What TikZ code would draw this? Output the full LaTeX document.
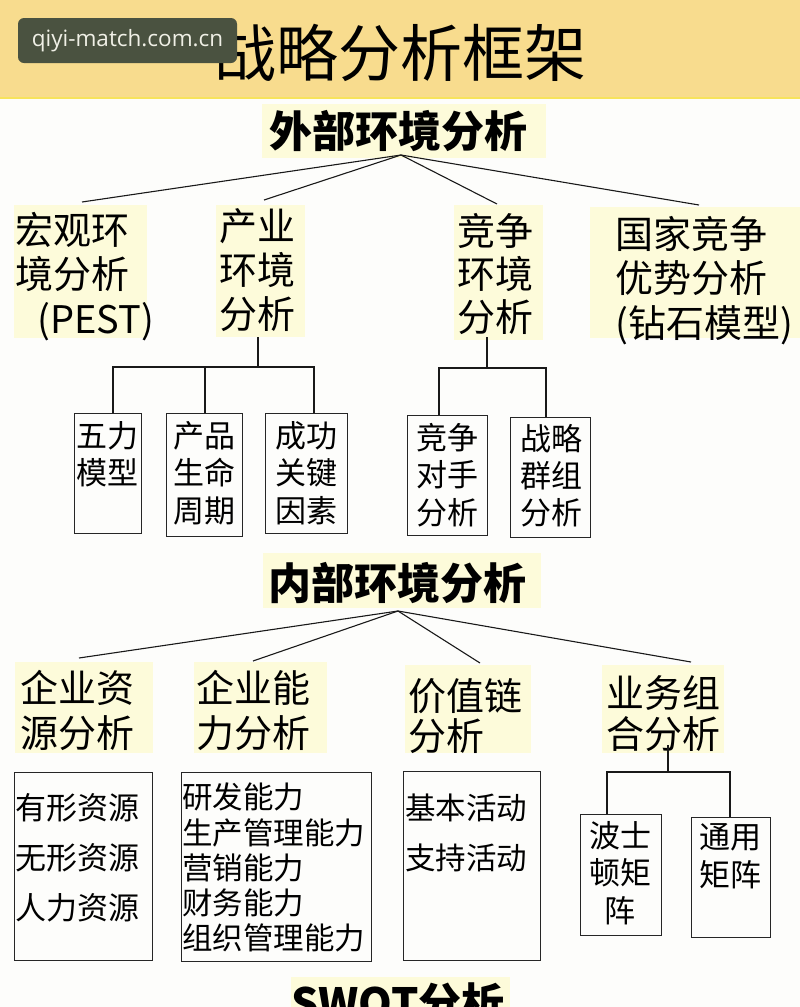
\documentclass[tikz,border=0pt]{standalone}
\usepackage{fontspec}
\setmainfont{Noto Sans CJK SC}
\newfontfamily\wmfont{Open Sans}
\usetikzlibrary{calc}
\definecolor{headc}{HTML}{F8DC8E}
\definecolor{headline}{HTML}{F7E35C}
\definecolor{hl}{HTML}{FDFBDA}
\definecolor{wm}{HTML}{4A5240}
\definecolor{wmtext}{HTML}{F0F0E6}
\definecolor{bg}{HTML}{FDFDFB}
\tikzset{
  lab/.style={anchor=north west, inner sep=0pt, align=left, font=\fontsize{38}{44.5}\selectfont},
  head/.style={inner sep=0pt, font=\bfseries\fontsize{43}{50}\selectfont},
  boxs/.style={draw=black!85, line width=1.1pt, anchor=north west, inner sep=0pt},
  btxt/.style={anchor=north, inner sep=0pt, align=center, font=\fontsize{31}{37.5}\selectfont},
  ltxt/.style={anchor=north west, inner sep=0pt, align=left, font=\fontsize{31}{50}\selectfont},
  conn/.style={line width=1.1pt, black!90},
}
\begin{document}
\begin{tikzpicture}[x=1pt,y=-1pt]
\useasboundingbox (0,0) rectangle (800,1007);
\clip (0,0) rectangle (800,1007);
\fill[bg] (0,0) rectangle (800,1007);
% header
\fill[headc] (0,0) rectangle (800,98);
\draw[headline, line width=2.5pt] (0,98) -- (800,98);
\node[inner sep=0pt, font=\fontsize{62}{70}\selectfont] (title) at (400,53) {战略分析框架};
\node[fill=wm, rounded corners=6pt, minimum width=219pt, minimum height=45pt, text=wmtext,
      text height=16pt, text depth=5pt,
      font=\wmfont\fontsize{22.5}{26}\selectfont, inner sep=0pt] (wm) at (127.5,40.5) {qiyi-match.com.cn};
% highlights
\fill[hl] (262,104) rectangle (546,158);
\fill[hl] (14,205) rectangle (147,338);
\fill[hl] (216,205) rectangle (305,337);
\fill[hl] (454,205) rectangle (543,340);
\fill[hl] (590,207) rectangle (800,338);
\fill[hl] (263,553) rectangle (541,608);
\fill[hl] (15,662) rectangle (153,753);
\fill[hl] (194,662) rectangle (327,753);
\fill[hl] (405,665) rectangle (531,753);
\fill[hl] (602,665) rectangle (724,753);
\fill[hl] (291,977) rectangle (510,1007);
% headings
\node[head] (ext) at (398,131) {外部环境分析};
\node[head] (int) at (397,583) {内部环境分析};
\node[head] (swot) at (398,1003) {SWOT分析};
% external labels
\node[lab] (mac) at (15,212) {宏观环\\境分析\\\hspace*{22pt}(PEST)};
\node[lab, font=\fontsize{38}{44}\selectfont] (ind) at (219,208) {产业\\环境\\分析};
\node[lab, font=\fontsize{38}{43}\selectfont] (comp) at (457,213) {竞争\\环境\\分析};
\node[lab] (nat) at (615,216) {国家竞争\\优势分析\\(钻石模型)};
% external connectors
\coordinate (ea) at (401,155);
\coordinate (e1) at (82,202);
\coordinate (e2) at (264,200);
\coordinate (e3) at (497,204);
\coordinate (e4) at (699,205);
\foreach \e in {e1,e2,e3,e4} \draw[conn] (ea) -- (\e);
% industry boxes
\node[boxs, minimum width=67pt, minimum height=120pt] (b1) at (74,413) {};
\node[boxs, minimum width=76pt, minimum height=123pt] (b2) at (166,413) {};
\node[boxs, minimum width=82pt, minimum height=120pt] (b3) at (265,413) {};
\node[btxt] (b1t) at (107.5,421) {五力\\模型};
\node[btxt] (b2t) at (204,421) {产品\\生命\\周期};
\node[btxt] (b3t) at (306.5,421) {成功\\关键\\因素};
\coordinate (indb) at (258,337);
\coordinate (j1) at (258,367);
\coordinate (d1) at (113,413);
\coordinate (d2) at (205,413);
\coordinate (d3) at (314,413);
\draw[conn] (indb) -- (j1);
\draw[conn] (d1) |- (j1) -| (d3);
\draw[conn] (d2) -- (d2 |- j1);
% competition boxes
\node[boxs, minimum width=80pt, minimum height=120pt] (b4) at (407,415) {};
\node[boxs, minimum width=80pt, minimum height=120pt] (b5) at (510,417) {};
\node[btxt, font=\fontsize{31}{37.5}\selectfont] (b4t) at (447,423) {竞争\\对手\\分析};
\node[btxt, font=\fontsize{31}{37}\selectfont] (b5t) at (551,424) {战略\\群组\\分析};
\coordinate (compb) at (487,337);
\coordinate (j2) at (487,368);
\coordinate (d4) at (439,415);
\coordinate (d5) at (546,417);
\draw[conn] (compb) -- (j2);
\draw[conn] (d4) |- (j2) -| (d5);
% internal labels
\node[lab, font=\fontsize{38}{45}\selectfont] (res) at (20,670) {企业资\\源分析};
\node[lab, font=\fontsize{38}{45}\selectfont] (cap) at (196,670) {企业能\\力分析};
\node[lab, font=\fontsize{38}{40}\selectfont] (val) at (408,678) {价值链\\分析};
\node[lab, font=\fontsize{38}{41}\selectfont] (port) at (606,675) {业务组\\合分析};
% internal connectors
\coordinate (ia) at (398,611);
\coordinate (i1) at (79,658);
\coordinate (i2) at (253,661);
\coordinate (i3) at (480,663);
\coordinate (i4) at (691,662);
\foreach \e in {i1,i2,i3,i4} \draw[conn] (ia) -- (\e);
% internal boxes
\node[boxs, minimum width=138pt, minimum height=188pt] (r1) at (14,772) {};
\node[boxs, minimum width=190pt, minimum height=189pt] (r2) at (181,772) {};
\node[boxs, minimum width=137pt, minimum height=189pt] (r3) at (403,771) {};
\node[boxs, minimum width=81pt, minimum height=121pt] (r4) at (580,814) {};
\node[boxs, minimum width=79pt, minimum height=120pt] (r5) at (691,817) {};
\node[ltxt] (r1t) at (15,793) {有形资源\\无形资源\\人力资源};
\node[ltxt, font=\fontsize{30.5}{35.2}\selectfont] (r2t) at (182,783) {研发能力\\生产管理能力\\营销能力\\财务能力\\组织管理能力};
\node[ltxt, font=\fontsize{30.5}{50}\selectfont] (r3t) at (405,794) {基本活动\\支持活动};
\node[btxt, font=\fontsize{31}{37.5}\selectfont] (r4t) at (620,821) {波士\\顿矩\\阵};
\node[btxt, font=\fontsize{31}{38}\selectfont] (r5t) at (730,823) {通用\\矩阵};
\coordinate (portb) at (668,745);
\coordinate (j3) at (668,772);
\coordinate (d6) at (607,814);
\coordinate (d7) at (730,817);
\draw[conn] (portb) -- (j3);
\draw[conn] (d6) |- (j3) -| (d7);
\end{tikzpicture}
\end{document}
